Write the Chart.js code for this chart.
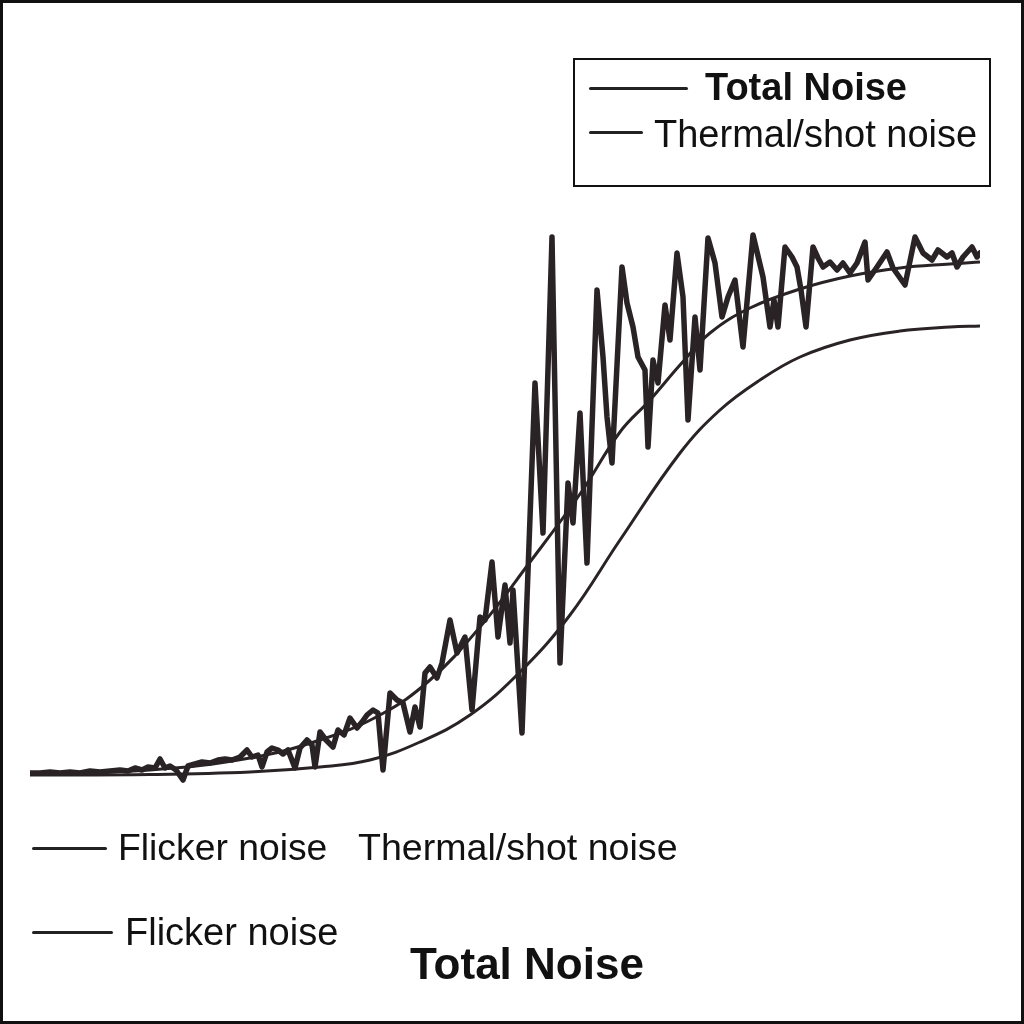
<!DOCTYPE html>
<html><head><meta charset="utf-8">
<script src="https://cdn.jsdelivr.net/npm/chart.js@4/dist/chart.umd.min.js"></script>
<style>
html,body{margin:0;padding:0;background:#fff;}
#wrap{position:relative;width:1024px;height:1024px;overflow:hidden;background:#fff;font-family:"Liberation Sans",Arial,sans-serif;color:#111;}
#frame{position:absolute;left:0;top:0;width:1024px;height:1024px;box-sizing:border-box;border:3px solid #111;pointer-events:none;}
canvas{position:absolute;left:0;top:0;}
.t{position:absolute;white-space:nowrap;line-height:1;}
.b{font-weight:bold;}
.ln{position:absolute;height:3px;background:#222;border-radius:2px;}
#box{position:absolute;left:573px;top:58px;width:418px;height:129px;box-sizing:border-box;border:2px solid #111;}
</style>
</head>
<body>
<div id="wrap">
<canvas id="c" width="1024" height="1024"></canvas>
<div id="box"></div>
<div class="ln" style="left:589px;top:87px;width:99px;"></div>
<div class="t b" style="left:705px;top:68px;font-size:38px;">Total Noise</div>
<div class="ln" style="left:589px;top:131px;width:54px;"></div>
<div class="t" style="left:654px;top:115px;font-size:38px;">Thermal/shot noise</div>

<div class="ln" style="left:32px;top:847px;width:75px;"></div>
<div class="t" style="left:118px;top:829px;font-size:37.3px;">Flicker noise</div>
<div class="t" style="left:358px;top:829px;font-size:37.6px;">Thermal/shot noise</div>
<div class="ln" style="left:32px;top:931px;width:81px;"></div>
<div class="t" style="left:125px;top:913px;font-size:38px;">Flicker noise</div>
<div class="t b" style="left:410px;top:942px;font-size:44px;">Total Noise</div>
<div id="frame"></div>
</div>
<script>
// Frequency positions and noise levels
const freqTotal = [0,2,4,6,8,10,12,14,16,18,19.6,21,22.4,23.6,25,26,27,28,29.2,30.6,31.6,33,34.4,36,37.6,39,40.4,42,43.4,44.4,45.6,46.4,47.4,48.4,49.6,50.6,51.6,53,54,55.4,56.4,57,58,59.2,60.6,61.6,62.8,64,65.4,66.4,67.4,68.6,69.6,70.6,72,73.4,74.6,76,77,78,79,80,81.4,82.4,84,85.4,87,88.4,90,91,92.4,93.6,95,96,96.6,98.4,101,102.6,104.4,106,107.6,108.6,110,111.4,113.4,114.6,115.4,116.4,118.4,119.4,120.6,121.6,123,123.6,124.6,125.6,127,128,129.4,130.6,131.6,133,134,135.6,137,138.4,139.6,141,142.6,144.6,146.6,148,148.8,149.6,151,152.4,153.4,154.2,155.2,156.6,157.6,158.6,160,161.4,162.6,164,165.4,167,167.6,169.4,171.4,172.6,175,177,178.6,180.4,181.6,183.4,184.4,185.4,186.6,188.4,189.4,190];
const totalNoise = [0.4,0.4,0.6,0.4,0.6,0.4,0.8,0.6,0.8,1.0,0.8,1.4,1.0,1.6,1.4,3.2,1.4,1.8,1.0,-1.0,1.8,2.2,2.6,2.4,3.0,3.2,3.0,3.6,5.0,3.6,4.0,1.6,4.6,5.4,5.0,4.2,5.0,1.4,5.4,7.0,6.0,1.6,8.6,7.0,5.6,9.0,8.0,11.4,9.4,10.6,12.0,13.0,12.4,1.0,16.4,15.0,14.4,8.6,13.6,9.6,20.4,21.6,19.4,22.4,31.0,24.4,27.6,13.0,31.6,31.0,42.6,27.6,38.0,26.4,37.0,8.4,78.4,48.4,107.6,22.4,58.4,50.4,72.4,42.4,97.0,83.6,71.6,62.4,101.6,94.4,89.6,83.6,81.0,65.6,83.0,78.4,94.0,87.0,104.4,95.6,71.0,91.6,81.0,107.4,102.4,91.6,95.6,99.0,85.6,108.0,99.6,89.6,95.0,89.6,105.6,103.6,101.6,97.0,89.6,105.6,103.4,101.6,102.6,101.0,102.4,100.4,102.4,106.6,99.0,101.6,104.6,101.4,98.0,107.6,104.4,103.0,105.0,103.6,104.4,101.6,103.6,105.6,103.6,104.4];

const freqThermal = [0,24,44,58,70,80,90,100,110,118,124,130,136,144,154,164,174,184,190];
const thermalNoise = [0.4,1.0,3.4,7.0,12.0,19.0,29.6,42.6,56.2,68.6,75.0,82.0,88.4,93.4,97.2,99.8,101.4,102.2,102.6];

const freqFlicker = [0,24,44,58,68,78,88,98,108,118,130,138,146,154,164,174,184,190];
const flickerNoise = [0,0.1,0.6,1.6,3.0,6.6,12.0,20.6,32.0,47.0,64.4,73.0,79.0,83.6,87.0,88.8,89.6,89.8];

const toPts = (xs, ys) => xs.map((x, i) => ({x: x, y: ys[i]}));
const ink = '#2a2325';

new Chart(document.getElementById('c').getContext('2d'), {
  type: 'line',
  data: {
    datasets: [
      {label: 'Total Noise', data: toPts(freqTotal, totalNoise), borderColor: ink, borderWidth: 5.5,
       pointRadius: 0, tension: 0, borderJoinStyle: 'round', borderCapStyle: 'round', fill: false},
      {label: 'Thermal/shot noise', data: toPts(freqThermal, thermalNoise), borderColor: ink, borderWidth: 3,
       pointRadius: 0, tension: 0.4, fill: false},
      {label: 'Flicker noise', data: toPts(freqFlicker, flickerNoise), borderColor: ink, borderWidth: 3,
       pointRadius: 0, tension: 0.4, fill: false}
    ]
  },
  options: {
    responsive: false,
    animation: false,
    layout: {padding: {left: 30, right: 44, top: 225, bottom: 239}},
    scales: {
      x: {type: 'linear', min: 0, max: 190, display: false},
      y: {type: 'linear', min: -2, max: 110, display: false}
    },
    plugins: {legend: {display: false}, tooltip: {enabled: false}}
  }
});
</script>
</body></html>
